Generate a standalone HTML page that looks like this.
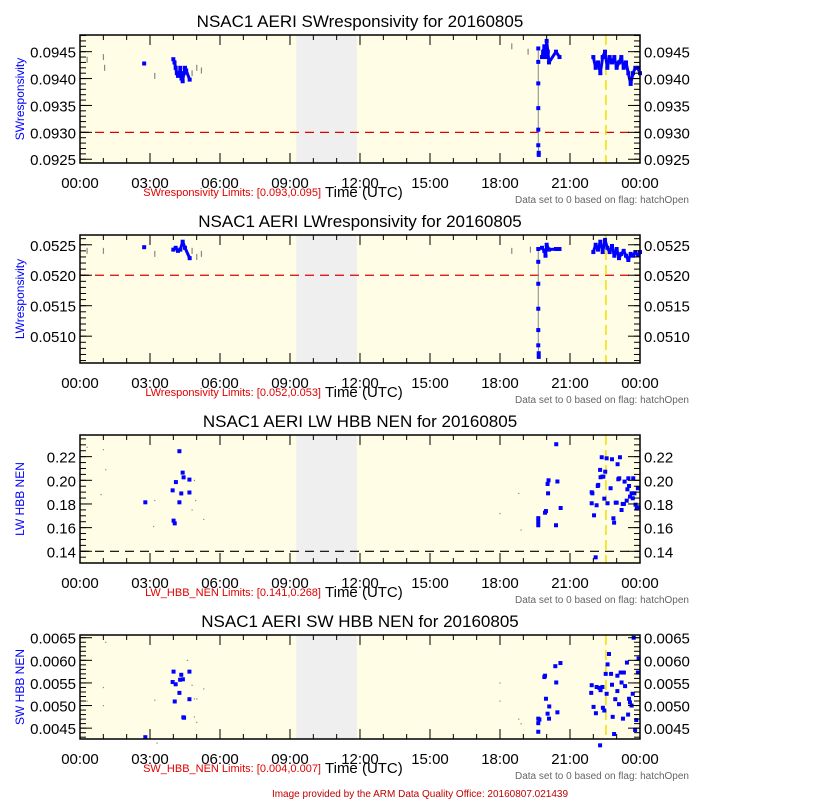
<!DOCTYPE html>
<html><head><meta charset="utf-8"><style>
body{margin:0;background:#fff;}
svg{display:block;font-family:"Liberation Sans",sans-serif;}
</style></head><body>
<svg id="c" width="840" height="800" xmlns="http://www.w3.org/2000/svg"></svg>
<script>
// ---------- data ----------
const p1EarlyHours=[2.75,4.0,4.05,4.1,4.15,4.2,4.25,4.3,4.35,4.4,4.45,4.5,4.55,4.7];
const p1EarlyVals=[0.09428,0.09436,0.0943,0.0942,0.0941,0.09405,0.0941,0.0942,0.0940,0.09395,0.0941,0.0942,0.09415,0.09398];
const p1JumpHours=[19.64,19.64,19.64,19.64,19.64,19.64,19.66,19.66];
const p1JumpVals=[0.09456,0.09431,0.09391,0.09345,0.09305,0.09276,0.09262,0.09258];
const p1MidHours=[19.8,19.85,19.9,19.95,20.0,20.05,20.1,20.4,20.55];
const p1MidVals=[0.0944,0.0945,0.0946,0.0944,0.0947,0.0945,0.0943,0.0945,0.0944];
const p1LateHours=[22.0,22.1,22.2,22.3,22.4,22.5,22.6,22.7,22.8,22.9,23.0,23.1,23.2,23.3,23.4,23.5,23.6,23.7,23.8,23.9,24.0];
const p1LateVals=[0.0944,0.0942,0.0943,0.0941,0.0944,0.0945,0.0942,0.0944,0.0943,0.0944,0.0942,0.0943,0.0944,0.0942,0.0943,0.0941,0.0939,0.0941,0.0942,0.0942,0.0941];
const p1GreyHours=[0.3,1.0,1.05,3.2,4.8,5.0,5.2,18.5,19.2];
const p1GreyVals=[0.09435,0.0944,0.0942,0.09405,0.0941,0.0942,0.09415,0.0946,0.0945];

const p2EarlyHours=[2.75,4.0,4.1,4.2,4.3,4.4,4.5,4.7];
const p2EarlyVals=[0.05246,0.05242,0.05245,0.0524,0.05242,0.05255,0.05245,0.05228];
const p2JumpHours=[19.64,19.64,19.64,19.64,19.64,19.64,19.66,19.66];
const p2JumpVals=[0.05243,0.05222,0.05186,0.05145,0.0511,0.05085,0.05072,0.05066];
const p2MidHours=[19.8,19.9,19.95,20.0,20.1,20.4,20.55];
const p2MidVals=[0.05245,0.0524,0.05232,0.0525,0.05242,0.05243,0.05243];
const p2LateHours=[22.0,22.1,22.2,22.3,22.4,22.5,22.6,22.7,22.8,22.9,23.0,23.1,23.2,23.3,23.4,23.5,23.6,23.7,23.8,23.9,24.0];
const p2LateVals=[0.05238,0.0525,0.05242,0.05255,0.05238,0.05258,0.05245,0.05238,0.05248,0.05232,0.05243,0.05228,0.05235,0.0524,0.05232,0.05225,0.05235,0.05232,0.05238,0.05233,0.05238];
const p2GreyHours=[0.3,1.0,3.2,4.8,5.0,5.2,18.5,19.3];
const p2GreyVals=[0.0524,0.0524,0.05235,0.0524,0.0523,0.05235,0.0524,0.05242];

const p3Hours=[2.80,4.26,4.40,4.44,4.11,3.97,4.69,4.34,4.69,4.26,4.01,4.06,
19.64,19.64,19.64,19.93,19.97,20.04,20.08,20.06,20.41,20.46,20.6,20.4,
21.93,21.96,21.93,22.03,22.14,22.19,22.21,22.29,22.31,22.36,22.39,22.43,22.47,22.51,22.57,22.61,22.74,22.80,22.86,22.89,22.96,23.0,23.04,23.07,23.11,23.14,23.21,23.26,23.31,23.34,23.43,23.46,23.50,23.53,23.57,23.64,23.69,23.71,23.76,23.81,23.86,23.91,23.94,22.10];
const p3Vals=[0.1814,0.2246,0.2065,0.2025,0.1985,0.1915,0.2006,0.1889,0.1897,0.1814,0.1659,0.1636,
0.168,0.165,0.162,0.1726,0.174,0.1969,0.2,0.189,0.2305,0.199,0.1766,0.162,
0.1899,0.1890,0.1806,0.1704,0.1789,0.1952,0.1961,0.2088,0.2026,0.2195,0.2031,0.2031,0.1845,0.2073,0.2186,0.1806,0.1933,0.2178,0.1679,0.1642,0.1811,0.1811,0.2136,0.2009,0.2017,0.2195,0.1749,0.1800,0.1800,0.1989,0.1828,0.1924,0.2017,0.1952,0.1862,0.1890,0.1848,0.2017,0.1890,0.1794,0.1761,0.1933,0.1772,0.1349];
const p3GreyHours=[0.3,1.0,1.1,0.9,3.2,3.15,4.9,4.95,4.8,5.3,18.0,18.8,18.9];
const p3GreyVals=[0.228,0.226,0.209,0.188,0.183,0.161,0.2,0.183,0.175,0.167,0.172,0.189,0.158];

const p4Hours=[2.80,4.01,3.97,4.10,4.34,4.29,4.41,4.26,4.69,4.69,4.06,4.43,4.46,
19.64,19.64,19.64,19.69,19.90,19.93,19.97,20.04,20.11,20.10,20.37,20.41,20.46,20.59,
23.73,23.94,22.67,22.61,23.44,22.53,22.76,23.03,23.17,23.31,23.91,21.93,22.14,22.26,22.31,22.39,22.80,23.21,23.36,21.91,22.57,23.03,23.69,22.94,23.53,23.10,23.57,23.64,22.01,22.41,22.11,22.47,23.49,22.83,23.27,23.84,23.79,22.89,22.29];
const p4Vals=[0.00430,0.00575,0.00552,0.00547,0.00568,0.00557,0.00558,0.00528,0.00575,0.00514,0.00509,0.00474,0.00473,
0.00471,0.00461,0.00442,0.00469,0.00563,0.00566,0.00515,0.00482,0.00498,0.00471,0.00587,0.00551,0.00485,0.00594,
0.00650,0.00604,0.00614,0.00591,0.00595,0.00570,0.00570,0.00566,0.00573,0.00573,0.00573,0.00545,0.00541,0.00539,0.00534,0.00541,0.00546,0.00551,0.00543,0.00528,0.00526,0.00532,0.00526,0.00514,0.00515,0.00503,0.00507,0.00500,0.00497,0.00495,0.00483,0.00489,0.00480,0.00475,0.00471,0.00468,0.00446,0.00437,0.00412];
const p4GreyHours=[0.3,1.0,1.0,1.1,3.2,3.3,4.6,4.8,4.9,5.0,5.3,4.9,5.0,18.0,18.0,18.8,18.9];
const p4GreyVals=[0.0051,0.0054,0.0050,0.0064,0.00512,0.00417,0.0060,0.00545,0.00515,0.00515,0.00537,0.00475,0.00463,0.0055,0.0051,0.0047,0.0046];

const xTickLabels=["00:00","03:00","06:00","09:00","12:00","15:00","18:00","21:00","00:00"];
const greyBand=[9.27,11.87];
const yellowLine=22.54;

// ---------- drawing ----------
const S="http://www.w3.org/2000/svg";
const svg=document.getElementById('c');
function el(t,a,p){const e=document.createElementNS(S,t);for(const k in a)e.setAttribute(k,a[k]);(p||svg).appendChild(e);return e;}
function txt(s,a,p){const e=el('text',a,p);e.textContent=s;return e;}
const X0=80,X1=640;
const xs=h=>X0+(h/24)*(X1-X0);

const panels=[
 {name:'swresp',title:'NSAC1 AERI SWresponsivity for 20160805',ylab:'SWresponsivity',top:35,bot:163,ymin:0.09243,ymax:0.09481,ticks:[0.0925,0.0930,0.0935,0.0940,0.0945],dec:4,minor:0.0001,limit:0.0930,limColor:'#e00000',limText:'SWresponsivity Limits: [0.093,0.095]',
  hours:[p1EarlyHours,p1JumpHours,p1MidHours,p1LateHours],vals:[p1EarlyVals,p1JumpVals,p1MidVals,p1LateVals],gh:p1GreyHours,gv:p1GreyVals,lines:true},
 {name:'lwresp',title:'NSAC1 AERI LWresponsivity for 20160805',ylab:'LWresponsivity',top:235,bot:363,ymin:0.05056,ymax:0.05266,ticks:[0.0510,0.0515,0.0520,0.0525],dec:4,minor:0.0001,limit:0.0520,limColor:'#e00000',limText:'LWresponsivity Limits: [0.052,0.053]',
  hours:[p2EarlyHours,p2JumpHours,p2MidHours,p2LateHours],vals:[p2EarlyVals,p2JumpVals,p2MidVals,p2LateVals],gh:p2GreyHours,gv:p2GreyVals,lines:true},
 {name:'lwhbbnen',title:'NSAC1 AERI LW HBB NEN for 20160805',ylab:'LW HBB NEN',top:435,bot:563,ymin:0.1301,ymax:0.2383,ticks:[0.14,0.16,0.18,0.20,0.22],dec:2,minor:0.005,limit:0.14,limColor:'#000',limText:'LW_HBB_NEN Limits: [0.141,0.268]',
  hours:[p3Hours],vals:[p3Vals],gh:p3GreyHours,gv:p3GreyVals,lines:false},
 {name:'swhbbnen',title:'NSAC1 AERI SW HBB NEN for 20160805',ylab:'SW HBB NEN',top:635,bot:739,ymin:0.00426,ymax:0.00656,ticks:[0.0045,0.0050,0.0055,0.0060,0.0065],dec:4,minor:0.0001,limit:null,limText:'SW_HBB_NEN Limits: [0.004,0.007]',
  hours:[p4Hours],vals:[p4Vals],gh:p4GreyHours,gv:p4GreyVals,lines:false}
];

panels.forEach((P,pi)=>{
 const g=el('g',{});
 
 
 const ys=v=>P.bot-(v-P.ymin)/(P.ymax-P.ymin)*(P.bot-P.top);
 const bg=el('rect',{x:X0,y:P.top,width:X1-X0,height:P.bot-P.top,fill:'#fffde6'},g);
 
 
 const band=el('rect',{x:xs(greyBand[0]),y:P.top,width:xs(greyBand[1])-xs(greyBand[0]),height:P.bot-P.top,fill:'#efefef'},g);
 
 
 if(P.limit!==null){
  const l=el('line',{x1:X0,x2:X1,y1:ys(P.limit),y2:ys(P.limit),stroke:P.limColor,'stroke-width':1.2,'stroke-dasharray':'9,6'},g);
  
  
 }
 const yl=el('line',{x1:xs(yellowLine),x2:xs(yellowLine),y1:P.top,y2:P.bot,stroke:'#f0e000','stroke-width':1.5,'stroke-dasharray':'10,5'},g);
 
 
 P.gh.forEach((h,i)=>{
  const r=el('rect',{x:xs(h)-0.5,y:ys(P.gv[i])-(P.lines?3:0.5),width:1.2,height:P.lines?6:1.2,fill:'#888'},g);
  
  
 });
 P.hours.forEach((hs,si)=>{
  const vs=P.vals[si];
  if(P.lines){
   for(let i=1;i<hs.length;i++){
    if(hs[i]-hs[i-1]>0.5) continue;
    const ln=el('line',{x1:xs(hs[i-1]),y1:ys(vs[i-1]),x2:xs(hs[i]),y2:ys(vs[i]),stroke:si==1?'#888':'#0000ff','stroke-width':si==1?1:3},g);
    
    
   }
  }
  hs.forEach((h,i)=>{
   const r=el('rect',{x:xs(h)-2,y:ys(vs[i])-2,width:4,height:4,fill:'#0000ff'},g);
   
   
  });
 });
 const fr=el('rect',{x:X0,y:P.top,width:X1-X0,height:P.bot-P.top,fill:'none',stroke:'#000','stroke-width':1.5},g);
 
 
 for(let v=Math.ceil(P.ymin/P.minor)*P.minor;v<=P.ymax;v+=P.minor){
  const y=ys(v);
  el('line',{x1:X0,x2:X0+6,y1:y,y2:y,stroke:'#000'},g);
  el('line',{x1:X1,x2:X1-6,y1:y,y2:y,stroke:'#000'},g);
 }
 P.ticks.forEach(v=>{
  const y=ys(v);
  el('line',{x1:X0,x2:X0+12,y1:y,y2:y,stroke:'#000'},g);
  el('line',{x1:X1,x2:X1-12,y1:y,y2:y,stroke:'#000'},g);
  const a=txt(v.toFixed(P.dec),{x:76,y:y+6,'font-size':15,'text-anchor':'end',fill:'#000'},g);
  
  
  const b=txt(v.toFixed(P.dec),{x:644,y:y+6,'font-size':15,fill:'#000'},g);
  
  
 });
 for(let h=0;h<=24;h++){
  const x=xs(h), L=h%3==0?10:5;
  el('line',{x1:x,x2:x,y1:P.bot,y2:P.bot-L,stroke:'#000'},g);
  el('line',{x1:x,x2:x,y1:P.top,y2:P.top+L,stroke:'#000'},g);
 }
 xTickLabels.forEach((s,i)=>{
  const t=txt(s,{x:xs(i*3),y:P.bot+25,'font-size':15,'text-anchor':'middle',fill:'#000'},g);
  
  
 });
 const ti=txt(P.title,{x:360,y:P.top-8,'font-size':17,'text-anchor':'middle',fill:'#000'},g);
 
 
 const cy=(P.top+P.bot)/2;
 const ya=txt(P.ylab,{x:24,y:cy,'font-size':12,'text-anchor':'middle',fill:'#0000ff',transform:`rotate(-90 24 ${cy})`},g);
 
 
 const lt=txt(P.limText,{x:321,y:P.bot+33,'font-size':11,'text-anchor':'end',fill:'#e00000'},g);
 
 
 const xt=txt('Time (UTC)',{x:325,y:P.bot+34,'font-size':15,fill:'#000'},g);
 
 
 const dn=txt('Data set to 0 based on flag: hatchOpen',{x:689,y:P.bot+40,'font-size':10,'text-anchor':'end',fill:'#666'},g);
 
 
});
const ft=txt('Image provided by the ARM Data Quality Office: 20160807.021439',{x:420,y:797,'font-size':10,'text-anchor':'middle',fill:'#c00000'});


</script>
</body></html>
